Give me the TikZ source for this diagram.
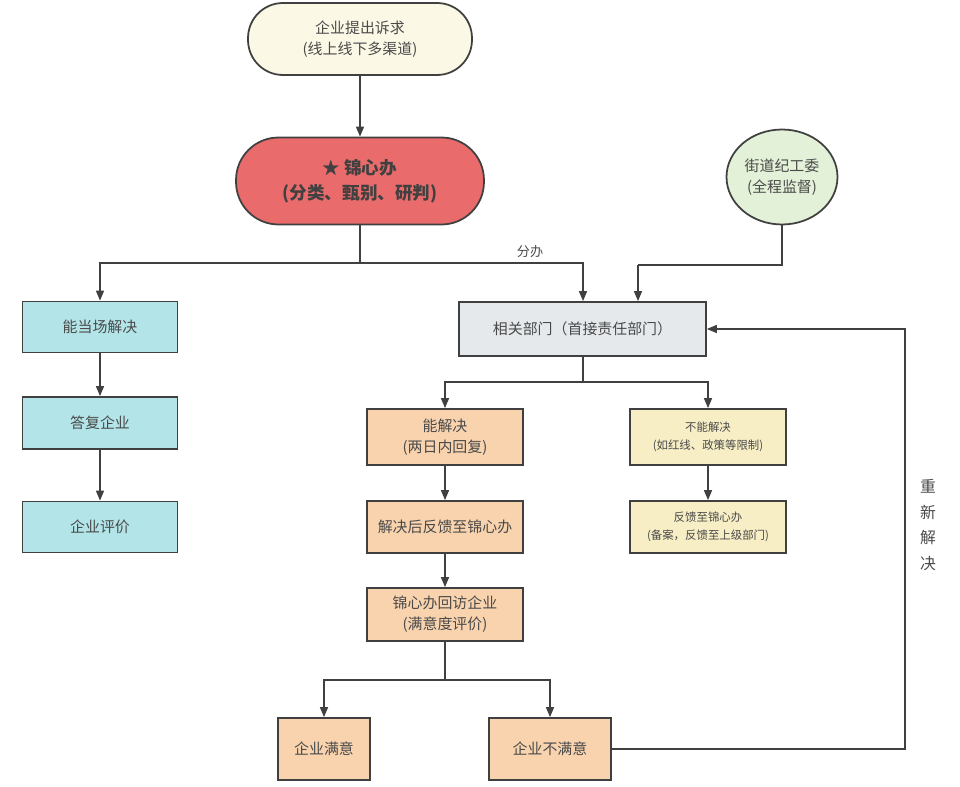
\documentclass[tikz,border=0pt]{standalone}
\usepackage{xcolor}
\usepackage{fontspec}
\usepackage{tikz}
\usetikzlibrary{arrows.meta,shapes.geometric}
\setmainfont{Noto Sans CJK SC}

\definecolor{linegray}{HTML}{404040}
\definecolor{textgray}{HTML}{4A4A4A}
\definecolor{creamfill}{HTML}{FBF8E6}
\definecolor{redfill}{HTML}{EA6B6B}
\definecolor{greenfill}{HTML}{E3F1D8}
\definecolor{grayfill}{HTML}{E5E9EC}
\definecolor{cyanfill}{HTML}{B3E5E8}
\definecolor{peachfill}{HTML}{F8D3AE}
\definecolor{yellowfill}{HTML}{F7EEC5}

\begin{document}
\begin{tikzpicture}[x=0.02cm, y=-0.02cm,
    box/.style={rectangle, draw=linegray, line width=1pt, text=textgray,
        align=center, inner sep=0pt, font=\fontsize{8.5}{12}\selectfont},
    arr/.style={draw=linegray, line width=0.8pt, -{Triangle[length=0.2cm, width=0.16cm]}},
    ln/.style={draw=linegray, line width=0.8pt}]
            \useasboundingbox (0,0) rectangle (960,787);
            % Nodes
            \node[box, fill=creamfill, rounded corners=0.7cm, minimum width=4.48cm, minimum height=1.44cm] (qytc) at (360,39) {企业提出诉求\\(线上线下多渠道)};
            \node[box, fill=redfill, rounded corners=0.85cm, minimum width=4.96cm, minimum height=1.74cm, text=black!75, font=\fontsize{10}{14}\selectfont\bfseries] (jxb) at (360,181) {★ 锦心办\\(分类、甄别、研判)};
            \node[box, ellipse, fill=greenfill, minimum width=2.22cm, minimum height=1.9cm] (jdjgw) at (782,177) {街道纪工委\\(全程监督)};
            \node[box, fill=grayfill, minimum width=4.94cm, minimum height=1.08cm] (xgbm) at (582.5,329) {相关部门（首接责任部门）};
            \node[box, fill=cyanfill, minimum width=3.1cm, minimum height=1.02cm] (dcjj) at (100,327) {能当场解决};
            \node[box, fill=cyanfill, minimum width=3.1cm, minimum height=1.04cm] (dfqy) at (100,423) {答复企业};
            \node[box, fill=cyanfill, minimum width=3.1cm, minimum height=1.02cm] (qypj) at (100,527) {企业评价};
            \node[box, fill=peachfill, minimum width=3.12cm, minimum height=1.12cm] (njj) at (445,437) {能解决\\(两日内回复)};
            \node[box, fill=peachfill, minimum width=3.12cm, minimum height=1.04cm] (jjfk) at (445,527) {解决后反馈至锦心办};
            \node[box, fill=peachfill, minimum width=3.12cm, minimum height=1.06cm] (hfqy) at (445,614.5) {锦心办回访企业\\(满意度评价)};
            \node[box, fill=yellowfill, minimum width=3.12cm, minimum height=1.12cm, font=\fontsize{6.5}{10}\selectfont] (bnjj) at (708,437) {不能解决\\(如红线、政策等限制)};
            \node[box, fill=yellowfill, minimum width=3.12cm, minimum height=1.04cm, font=\fontsize{6.5}{10}\selectfont] (fkjxb) at (708,527) {反馈至锦心办\\(备案，反馈至上级部门)};
            \node[box, fill=peachfill, minimum width=1.84cm, minimum height=1.24cm] (my) at (324,749) {企业满意};
            \node[box, fill=peachfill, minimum width=2.44cm, minimum height=1.24cm] (bmy) at (550,749) {企业不满意};

            % Labels
            \node[text=textgray, font=\fontsize{7.5}{10}\selectfont] (fb) at (530,252) {分办};
            \node[text=textgray, align=center, font=\fontsize{9}{14.7}\selectfont] (cxjj) at (928,525) {重\\新\\解\\决};

            % Edges
            \coordinate (fork1) at (360,263);
            \coordinate (fork2) at (638,265);
            \coordinate (fork3) at (583,382);
            \coordinate (fork4) at (445,680);
            \coordinate (loop) at (905,329);
            \draw[arr] (qytc) -- (jxb);
            \draw[ln] (jxb) -- (fork1);
            \draw[arr] (fork1) -| (dcjj);
            \draw[arr] (fork1) -| (xgbm.north -| fork3);
            \draw[ln] (jdjgw) |- (fork2);
            \draw[arr] (fork2) -- (fork2 |- xgbm.north);
            \draw[arr] (dcjj) -- (dfqy);
            \draw[arr] (dfqy) -- (qypj);
            \draw[ln] (xgbm.south -| fork3) -- (fork3);
            \draw[arr] (fork3) -| (njj);
            \draw[arr] (fork3) -| (bnjj);
            \draw[arr] (njj) -- (jjfk);
            \draw[arr] (jjfk) -- (hfqy);
            \draw[arr] (bnjj) -- (fkjxb);
            \draw[ln] (hfqy) -- (fork4);
            \draw[arr] (fork4) -| (my);
            \draw[arr] (fork4) -| (bmy);
            \draw[arr] (bmy) -| (loop) -- (xgbm);
        \end{tikzpicture}
\end{document}
